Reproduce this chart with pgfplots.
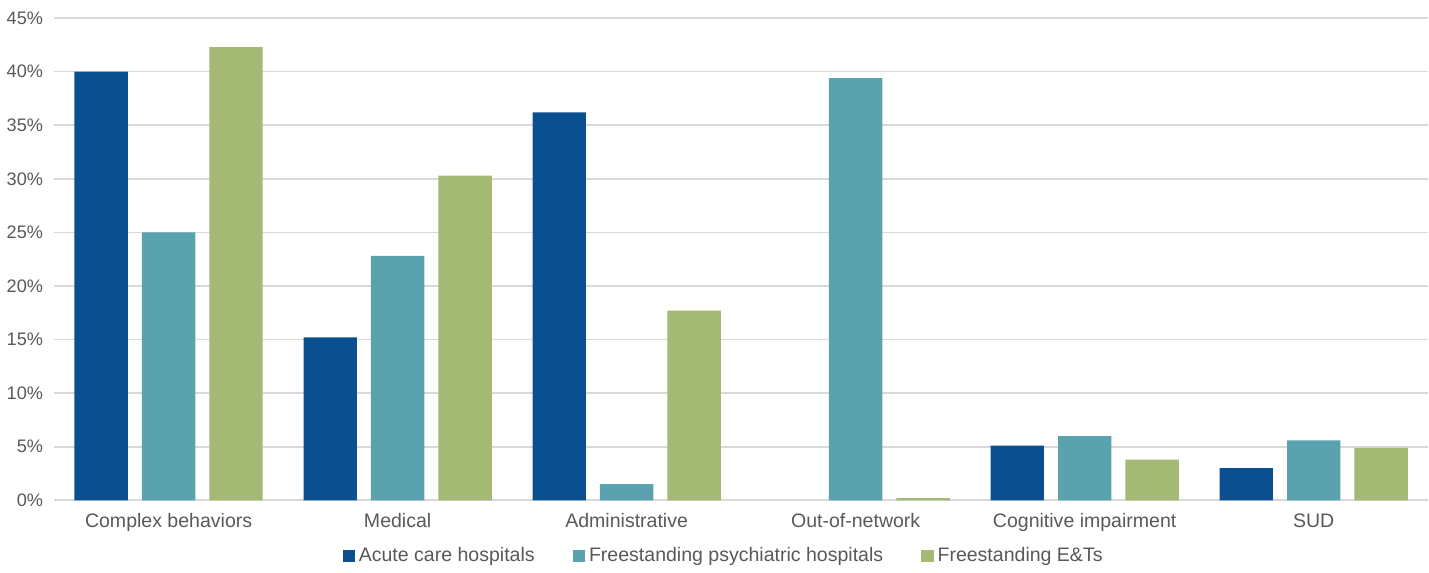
\documentclass[border=0pt]{standalone}
\usepackage{pgfplots}
\pgfplotsset{compat=1.18}
\usepackage{fontspec}
\setmainfont{Liberation Sans}
\definecolor{cA}{HTML}{0A4F8F}
\definecolor{cB}{HTML}{5AA3AE}
\definecolor{cC}{HTML}{A4B973}
\definecolor{gridc}{HTML}{D9D9D9}
\definecolor{txt}{HTML}{595959}
\begin{document}
\begin{tikzpicture}
\begin{axis}[
  scale only axis,
  width=682.5pt, height=239.5pt,
  ybar=7pt, bar width=26.5pt,
  xmin=-0.5, xmax=5.5,
  ymin=0, ymax=45,
  ytick={0,5,...,45},
  yticklabel={\pgfmathprintnumber{\tick}\%},
  /pgf/number format/assume math mode=true,
  xtick={0,1,2,3,4,5},
  xticklabels={Complex behaviors,Medical,Administrative,Out-of-network,Cognitive impairment,SUD},
  axis line style={draw=none},
  major tick length=0pt,
  ymajorgrids, grid style={gridc, line width=0.8pt},
  tick label style={text=txt},
  yticklabel style={font=\fontsize{9}{10}\selectfont, xshift=-2pt},
  xticklabel style={font=\fontsize{9.7}{11}\selectfont, yshift=-3pt},
  legend style={draw=none, at={(0.488,-0.08)}, anchor=north, legend columns=-1,
    font=\fontsize{9.7}{11}\selectfont, text=txt,
    /tikz/every even column/.append style={column sep=17pt}},
  legend image code/.code={\fill[#1] (0pt,-3pt) rectangle (6pt,3pt);},
  every axis plot/.append style={draw=none},
]
\addplot[fill=cA] coordinates {(0,40.0) (1,15.2) (2,36.2) (4,5.1) (5,3.0)};
\addplot[fill=cB] coordinates {(0,25.0) (1,22.8) (2,1.5) (3,39.4) (4,6.0) (5,5.6)};
\addplot[fill=cC] coordinates {(0,42.3) (1,30.3) (2,17.7) (3,0.2) (4,3.8) (5,4.9)};
\legend{Acute care hospitals,Freestanding psychiatric hospitals,Freestanding E\&Ts}
\end{axis}
\path ([yshift=9pt]current axis.north);
\end{tikzpicture}
\end{document}
